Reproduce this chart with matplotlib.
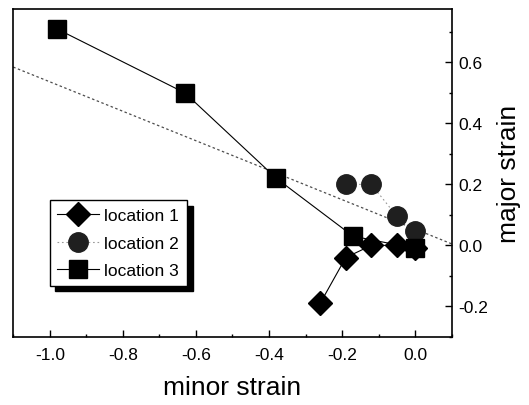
"""Forming limit style plot: major vs minor strain at three locations."""
import matplotlib
matplotlib.use("Agg")
import matplotlib.pyplot as plt
from matplotlib.ticker import MultipleLocator

plt.rcParams['font.family'] = ['Liberation Sans', 'DejaVu Sans']
plt.rcParams['axes.unicode_minus'] = False

# measured strains
loc1_minor = [-0.26, -0.19, -0.12, -0.05, 0.0]
loc1_major = [-0.19, -0.04, 0.0, 0.0, -0.01]

loc2_minor = [-0.19, -0.12, -0.05, 0.0]
loc2_major = [0.20, 0.20, 0.095, 0.048]

loc3_minor = [-0.98, -0.63, -0.38, -0.17, 0.0]
loc3_major = [0.71, 0.50, 0.22, 0.03, -0.01]

# dotted reference line
ref_minor = [-1.1, 0.11]
ref_major = [0.585, 0.0]

fig = plt.figure(figsize=(5.29, 4.06), dpi=100)
ax = fig.add_axes([0.025, 0.168, 0.829, 0.807])

ax.plot(ref_minor, ref_major, color='0.3', lw=0.9, ls=(0, (2, 2)))
ax.plot(loc1_minor, loc1_major, color='k', lw=0.8, marker='D', ms=12.5,
        mfc='k', mec='k', label='location 1')
ax.plot(loc2_minor, loc2_major, color='0.6', lw=0.8, ls=(0, (1.5, 2.5)),
        marker='o', ms=14, mfc='0.12', mec='0.12', label='location 2')
ax.plot(loc3_minor, loc3_major, color='k', lw=0.8, marker='s', ms=12.5,
        mfc='k', mec='k', label='location 3')

ax.set_xlim(-1.1, 0.1)
ax.set_ylim(-0.3, 0.775)

ax.xaxis.set_major_locator(MultipleLocator(0.2))
ax.xaxis.set_minor_locator(MultipleLocator(0.1))
ax.yaxis.set_major_locator(MultipleLocator(0.2))
ax.yaxis.set_minor_locator(MultipleLocator(0.1))
ax.yaxis.tick_right()
ax.yaxis.set_label_position('right')
ax.tick_params(which='both', direction='in', labelsize=12.5, width=1)
ax.tick_params(which='major', length=5)
ax.tick_params(which='minor', length=2.5)
ax.tick_params(axis='x', pad=7)
ax.tick_params(axis='y', pad=5)
for s in ax.spines.values():
    s.set_linewidth(1.2)

ax.set_xlabel('minor strain', fontsize=19, labelpad=10)
ax.set_ylabel('major strain', fontsize=19, labelpad=6)

leg = ax.legend(loc='upper left', bbox_to_anchor=(0.083, 0.416), fontsize=12.5,
                frameon=True, fancybox=False, edgecolor='k', framealpha=1,
                shadow={'color': 'k', 'alpha': 1, 'ox': 4, 'oy': -4},
                handlelength=2.4, handletextpad=0.3, borderpad=0.45,
                labelspacing=0.7, borderaxespad=0)
leg.get_frame().set_linewidth(1.0)

fig.savefig('out.png', dpi=100)
